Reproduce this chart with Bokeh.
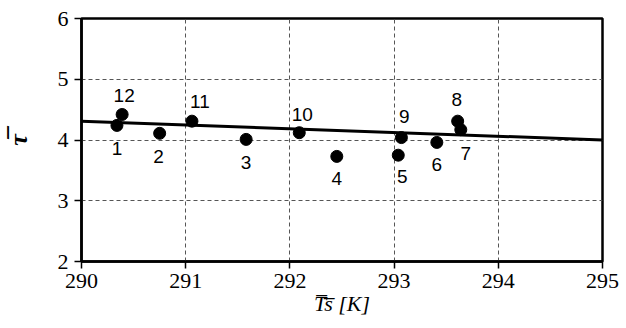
from bokeh.plotting import figure
from bokeh.models import Range1d, FixedTicker, ColumnDataSource
from bokeh.core.properties import value
from bokeh.embed import file_html
from bokeh.resources import INLINE

# ---- data ----
point_ids = ["1", "2", "3", "4", "5", "6", "7", "8", "9", "10", "11", "12"]
ts_mean = [290.34, 290.75, 291.58, 292.45, 293.04, 293.41, 293.64, 293.61, 293.07, 292.09, 291.06, 290.39]
tau_mean = [4.24, 4.11, 4.01, 3.73, 3.75, 3.96, 4.17, 4.31, 4.04, 4.12, 4.31, 4.42]
fit_ts = [290, 295]
fit_tau = [4.31, 4.00]
x_ticks = [290, 291, 292, 293, 294, 295]
y_ticks = [2, 3, 4, 5, 6]

# label placement offsets (screen px) - style only
label_dx = [0, -1, 0, 0, 4, 0, 5, -1, 3, 3, 8, 2]
label_dy = [23, 23, 23, 22, 21, 22, 24, -22, -21, -18, -20, -19]

src = ColumnDataSource(dict(x=ts_mean, y=tau_mean, id=point_ids, dx=label_dx, dy=label_dy))

p = figure(frame_width=521, frame_height=243,
           x_range=Range1d(290, 295), y_range=Range1d(2, 6),
           output_backend="svg", toolbar_location=None,
           min_border_left=78, min_border_right=17, min_border_top=18, min_border_bottom=51,
           background_fill_color="white", border_fill_color="white")

p.outline_line_color = "black"
p.outline_line_width = 2.5

for ax in (p.xaxis[0], p.yaxis[0]):
    ax.axis_line_width = 2.5
    ax.axis_line_color = "black"
    ax.major_tick_in = 0
    ax.major_tick_out = 7
    ax.major_tick_line_width = 1.5
    ax.minor_tick_line_color = None
    ax.major_label_text_font = "Liberation Serif"
    ax.major_label_text_font_size = "22px"
    ax.major_label_text_color = "black"
    ax.axis_label_text_color = "black"

p.xaxis.ticker = FixedTicker(ticks=x_ticks)
p.yaxis.ticker = FixedTicker(ticks=y_ticks)
p.xaxis.major_label_standoff = 5
p.yaxis.major_label_standoff = 6

p.yaxis.axis_label = "\u03c4\u0305"
p.yaxis.axis_label_text_font = "Liberation Serif"
p.yaxis.axis_label_text_font_style = "bold italic"
p.yaxis.axis_label_text_font_size = "26px"
p.yaxis.axis_label_standoff = 22

p.xaxis.axis_label = "T\u0305s\u0305 [K]"
p.xaxis.axis_label_text_font = "Liberation Serif"
p.xaxis.axis_label_text_font_style = "italic"
p.xaxis.axis_label_text_font_size = "22px"
p.xaxis.axis_label_standoff = 0

p.xgrid.ticker = FixedTicker(ticks=x_ticks)
p.ygrid.ticker = FixedTicker(ticks=y_ticks)
for g in (p.xgrid[0], p.ygrid[0]):
    g.grid_line_color = "#555555"
    g.grid_line_dash = "4 3"
    g.grid_line_width = 1

p.line(fit_ts, fit_tau, line_color="black", line_width=3)
p.scatter("x", "y", source=src, size=12, fill_color="black", line_color="black")
p.text("x", "y", text="id", source=src, x_offset="dx", y_offset="dy",
       text_align="center", text_baseline="middle",
       text_font=value("Liberation Sans Narrow, Liberation Sans"),
       text_font_size="19px", text_color="black")

open("out.html", "w").write(file_html(p, INLINE))
